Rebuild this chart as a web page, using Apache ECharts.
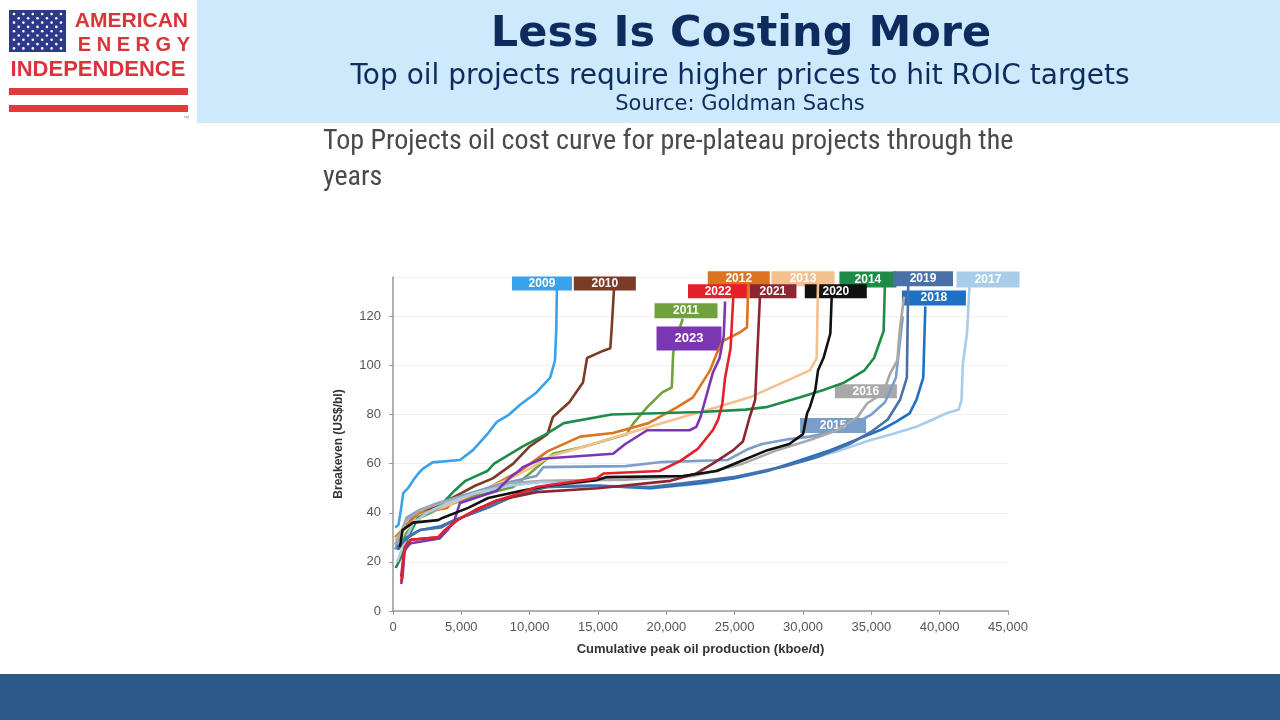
<!DOCTYPE html>
<html>
<head>
<meta charset="utf-8">
<script src="https://cdn.jsdelivr.net/npm/echarts@6/dist/echarts.min.js"></script>
<style>
  html, body { margin: 0; padding: 0; background: #fff; }
  #chart { width: 1280px; height: 720px; }
</style>
</head>
<body>
<div id="chart"></div>
<script>
// cost curves: [cumulative kboe/d, breakeven US$/bl]
const s2009 = [[150,34],[400,35],[600,42],[750,48],[1100,50],[1450,53],[1850,56],[2200,58],[2900,60.5],[4900,61.5],[5850,65.5],[6900,72],[7600,77],[8500,80],[9300,84],[10500,89],[11500,95],[11850,102],[11950,115],[12000,134]];
const s2010 = [[300,30],[700,33],[1500,38],[2800,42],[3600,44],[5000,48],[6000,51],[7300,54],[8800,60],[10000,67],[11300,72],[11700,79],[12900,85],[13900,93],[14200,103],[15400,106],[15900,107],[16000,115],[16200,134]];
const s2011 = [[400,25],[1000,32],[2000,38],[3500,42],[5500,46],[7000,48],[8800,50.5],[10000,56],[11700,64],[14000,67],[17100,72],[17600,76.5],[18600,83],[19700,89],[20400,91],[20500,105],[20800,112],[21200,119]];
const s2012 = [[150,30],[1000,35],[2000,40],[3950,42],[4300,44],[6400,48.4],[8600,55],[9300,57],[11300,65],[13700,71],[16100,72.5],[18700,76.5],[20800,83],[21950,87],[23200,98],[23700,105],[24150,110],[25400,113.5],[25900,115.5],[26000,134]];
const s2013 = [[150,29],[1000,34],[2000,39],[4000,43],[6000,48],[8600,54],[10000,58],[11500,63],[14000,67],[18800,75],[21200,79],[23700,83],[26100,87],[28500,93],[30500,98],[31000,103],[31100,134]];
const s2014 = [[200,17.5],[600,22],[1100,30],[1830,38],[3300,42],[4500,49],[5300,53],[6900,57],[7400,60],[9500,67],[11200,72],[12500,76.5],[16000,80],[22500,81],[25800,82],[27300,83],[29800,87],[31500,90],[33000,93],[34500,98],[35200,103],[35900,114],[36000,134]];
const s2015 = [[150,25],[1000,38],[1900,41],[3300,44],[5700,48],[8100,52],[10500,55],[11000,58.6],[17000,59],[19500,60.6],[24500,61.5],[26000,66],[27000,68],[29000,70],[30500,71],[33000,74],[35000,80],[36000,85],[36800,95],[37300,120]];
const s2016 = [[150,27],[1000,37],[2000,41],[3500,44],[6000,48],[8500,52],[11000,53],[17000,53.5],[22000,55],[25600,60],[28100,65.5],[30500,69.6],[32500,73.6],[34000,79],[34700,84.6],[35850,88.6],[36400,97],[36900,102],[37100,115.5],[37400,128]];
const s2017 = [[300,20],[1000,30],[1500,36],[2500,40],[4000,44],[6000,48],[8500,51],[11000,52.5],[15000,51],[19000,50],[23000,52],[24700,54],[27000,57],[30000,61],[32500,65],[34900,69.5],[36500,72],[38300,75],[39500,78],[40500,80.5],[41400,82],[41600,86],[41700,101],[42000,113],[42200,134]];
const s2018 = [[300,25],[1000,30],[2000,33],[3500,34.5],[4500,37],[6900,42],[9300,48],[11300,50.5],[15000,51],[18800,50],[22400,52],[24900,54],[27400,57],[29800,61.4],[32000,65.5],[34000,70],[35800,74],[36800,77],[37800,80.5],[38300,86],[38800,95],[38950,124]];
const s2019 = [[300,26],[1100,30],[2000,33],[3500,34],[4500,37],[6900,42],[9300,48],[11300,50.5],[15000,51],[18800,50.5],[21200,52],[24900,54.5],[28500,58.6],[31000,62.6],[33400,68],[35000,73],[36200,78],[37100,86],[37600,95],[37700,134]];
const s2020 = [[500,26],[700,33],[1460,36],[3300,37],[3660,38],[5500,42],[6960,46],[9400,49],[11300,51],[14900,53.3],[15600,54.5],[21200,55],[23700,57],[25600,61.4],[27400,65.5],[29000,68],[30000,72],[30300,80.5],[30500,83],[30900,90],[31100,98],[31500,103],[32000,113],[32100,128]];
const s2021 = [[600,14],[800,24],[1300,29],[3300,30],[4700,37],[6000,41],[7600,45],[10500,48.4],[15000,50],[20300,53],[22200,56],[23400,60],[24900,65.5],[25600,69],[26100,79],[26500,86],[26700,110],[26850,128]];
const s2022 = [[600,12],[700,16.7],[850,26],[1300,29],[3300,30],[3800,33],[4700,37],[6000,41],[7600,45],[9300,48],[10500,50.5],[14900,54],[15400,56],[19500,57],[21000,61],[22300,66],[23400,73.6],[23800,78],[24100,84.5],[24300,95],[24700,107],[24900,128]];
const s2023 = [[600,11],[700,14],[850,25],[1300,27.6],[3400,29.5],[4000,33],[4500,37],[4900,44],[7600,49],[8600,54.5],[9200,57],[9500,58.6],[10900,62],[16100,64],[17000,68],[18600,73.6],[21700,73.6],[22200,75],[22500,79],[23400,97],[23900,103],[24200,112],[24300,126]];

const years = ['2009','2010','2011','2012','2013','2014','2015','2016','2017','2018','2019','2021','2023','2020','2022'];
const curves = [s2009, s2010, s2011, s2012, s2013, s2014, s2015, s2016, s2017, s2018, s2019, s2021, s2023, s2020, s2022];
const colors = ['#3aa2ea','#7b3b26','#6fa23c','#da7420','#f4c08f','#1e8c48','#7b9dc9','#a8a8a8','#a9cde9','#1f6fc4','#4a70a8','#8c2632','#7b36b2','#111111','#e5202a'];

// where each year tag sits, in data units
const tagAt = {
  '2009': [10900, 133.4], '2010': [15500, 133.4], '2011': [21440, 122.3], '2012': [25300, 135.3],
  '2013': [30000, 135.3], '2014': [34750, 135], '2015': [32200, 75.5], '2016': [34600, 89.5],
  '2017': [43540, 135], '2018': [39580, 127.5], '2019': [38780, 135.3], '2020': [32400, 130.2],
  '2021': [27800, 130.2], '2022': [23780, 130.2], '2023': [21660, 111]
};
const tagSize = {
  '2009': [60, 14], '2010': [62, 14], '2011': [63, 15], '2012': [62, 15], '2013': [63, 15],
  '2014': [57, 16], '2015': [66, 15], '2016': [62, 14], '2017': [63, 16], '2018': [64, 15],
  '2019': [60, 15], '2020': [62, 14], '2021': [47, 14], '2022': [60, 14], '2023': [65, 24]
};

const chart = echarts.init(document.getElementById('chart'));

// logo stars
const stars = [];
for (let r = 0; r < 9; r++) {
  const n = r % 2 === 0 ? 6 : 5;
  for (let c = 0; c < n; c++) {
    stars.push({
      type: 'circle',
      shape: { cx: 14 + c * 9.4 + (r % 2 ? 4.7 : 0), cy: 14 + r * 4.3, r: 1.3 },
      style: { fill: '#fff' }
    });
  }
}

const series = curves.map((d, i) => ({
  name: years[i],
  type: 'line',
  data: d,
  showSymbol: false,
  clip: false,
  lineStyle: { color: colors[i], width: 2.6 },
  itemStyle: { color: colors[i] },
  z: 2 + i,
  markPoint: {
    silent: true,
    symbol: 'rect',
    symbolSize: tagSize[years[i]],
    data: [{ coord: tagAt[years[i]], value: years[i] }],
    itemStyle: { color: colors[i] },
    label: {
      show: true,
      formatter: years[i],
      color: '#fff',
      fontWeight: 'bold',
      fontFamily: 'Liberation Sans, Arial, sans-serif',
      fontSize: years[i] === '2023' ? 13 : 12
    }
  }
}));

chart.setOption({
  animation: false,
  backgroundColor: '#fff',
  grid: { left: 393, right: 272, top: 277, bottom: 109 },
  xAxis: {
    type: 'value',
    min: 0,
    max: 45000,
    interval: 5000,
    name: 'Cumulative peak oil production (kboe/d)',
    nameLocation: 'middle',
    nameGap: 32,
    nameTextStyle: { fontFamily: 'Liberation Sans, Arial, sans-serif', fontWeight: 'bold', fontSize: 13, color: '#333' },
    axisLine: { lineStyle: { color: '#999', width: 1.5 } },
    axisTick: { show: true, length: 4, lineStyle: { color: '#999' } },
    axisLabel: {
      color: '#555', fontSize: 13, margin: 10,
      fontFamily: 'Liberation Sans, Arial, sans-serif',
      formatter: v => v.toLocaleString('en-US')
    },
    splitLine: { show: false }
  },
  yAxis: {
    type: 'value',
    min: 0,
    max: 136,
    interval: 20,
    name: 'Breakeven (US$/bl)',
    nameLocation: 'middle',
    nameGap: 48,
    nameTextStyle: { fontFamily: 'Liberation Sans, Arial, sans-serif', fontWeight: 'bold', fontSize: 12, color: '#333' },
    axisLine: { show: true, lineStyle: { color: '#999', width: 1.5 } },
    axisTick: { show: true, length: 4, lineStyle: { color: '#999' } },
    axisLabel: { color: '#555', fontSize: 13, margin: 12, showMaxLabel: false, fontFamily: 'Liberation Sans, Arial, sans-serif' },
    splitLine: { lineStyle: { color: '#f0f0f0', width: 1 } }
  },
  series: series,
  graphic: [
    // header band
    { type: 'rect', shape: { x: 197, y: 0, width: 1083, height: 123 }, style: { fill: '#cde9fb' }, z: -10 },
    { type: 'text', x: 741, y: 35, style: { text: 'Less Is Costing More', fill: '#0d2b5c', font: 'bold 43px "DejaVu Sans", Verdana, sans-serif', textAlign: 'center', textVerticalAlign: 'middle' } },
    { type: 'text', x: 740, y: 77, style: { text: 'Top oil projects require higher prices to hit ROIC targets', fill: '#0d2b5c', font: '28px "DejaVu Sans", Verdana, sans-serif', textAlign: 'center', textVerticalAlign: 'middle' } },
    { type: 'text', x: 740, y: 105, style: { text: 'Source: Goldman Sachs', fill: '#0d2b5c', font: '21px "DejaVu Sans", Verdana, sans-serif', textAlign: 'center', textVerticalAlign: 'middle' } },
    // chart caption
    { type: 'text', x: 323, y: 142, style: { text: 'Top Projects oil cost curve for pre-plateau projects through the', fill: '#4a4a4a', font: '28px "Liberation Sans Narrow", "Roboto Condensed", "Liberation Sans", sans-serif', textVerticalAlign: 'middle' } },
    { type: 'text', x: 323, y: 178, style: { text: 'years', fill: '#4a4a4a', font: '28px "Liberation Sans Narrow", "Roboto Condensed", "Liberation Sans", sans-serif', textVerticalAlign: 'middle' } },
    // logo
    { type: 'rect', shape: { x: 9, y: 10, width: 57, height: 42 }, style: { fill: '#2d3a8a' } },
    { type: 'group', children: stars },
    { type: 'text', x: 188, y: 21, style: { text: 'AMERICAN', fill: '#d8343a', font: 'bold 21px "Liberation Sans", Arial, sans-serif', textAlign: 'right', textVerticalAlign: 'middle' } },
    { type: 'text', x: 190, y: 45, style: { text: 'E N E R G Y', fill: '#d8343a', font: 'bold 20px "Liberation Sans", Arial, sans-serif', textAlign: 'right', textVerticalAlign: 'middle' } },
    { type: 'text', x: 98, y: 70, style: { text: 'INDEPENDENCE', fill: '#d8343a', font: 'bold 22px "Liberation Sans", Arial, sans-serif', textAlign: 'center', textVerticalAlign: 'middle' } },
    { type: 'rect', shape: { x: 9, y: 88, width: 179, height: 7 }, style: { fill: '#e03c3e' } },
    { type: 'rect', shape: { x: 9, y: 105, width: 179, height: 7 }, style: { fill: '#e03c3e' } },
    { type: 'text', x: 186, y: 118, style: { text: '™', fill: '#888', font: '6px sans-serif', textAlign: 'center', textVerticalAlign: 'middle' } },
    // footer bar
    { type: 'rect', shape: { x: 0, y: 674, width: 1280, height: 46 }, style: { fill: '#2b5988' } }
  ]
});
</script>
</body>
</html>
